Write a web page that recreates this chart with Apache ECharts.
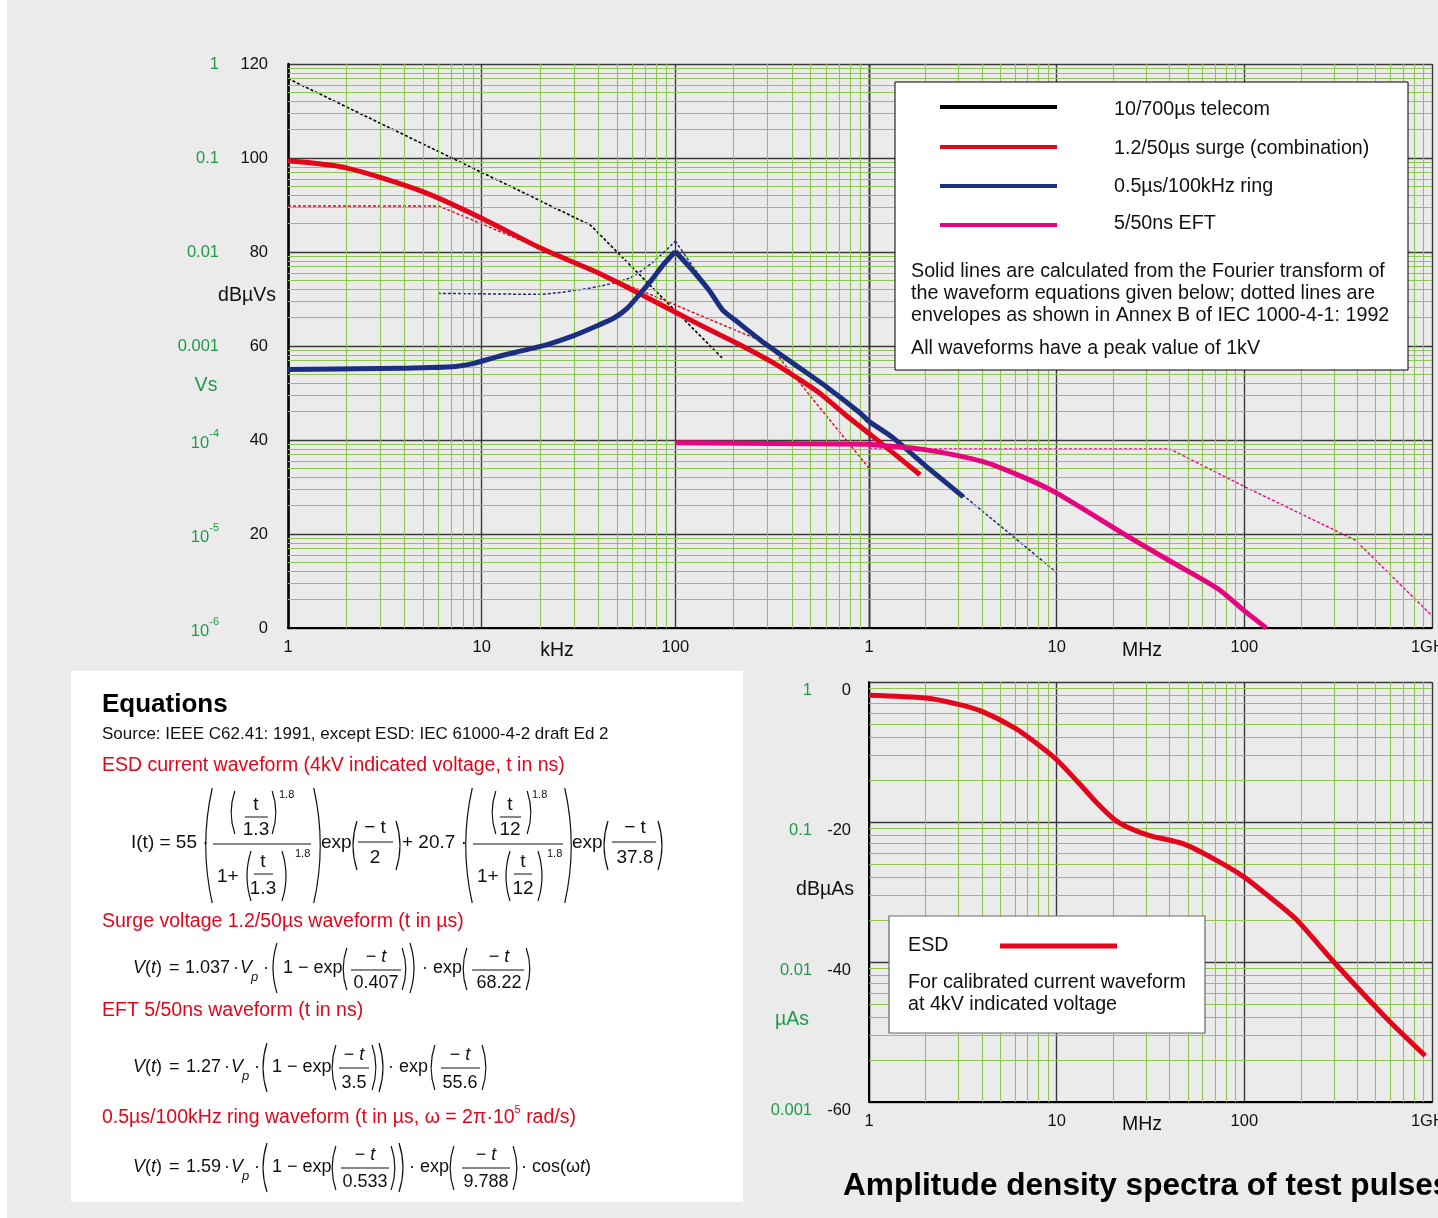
<!DOCTYPE html>
<html><head><meta charset="utf-8">
<script src="https://cdn.jsdelivr.net/npm/echarts@6/dist/echarts.min.js"></script>
<style>html,body{margin:0;padding:0;background:#ebebeb;}#c{width:1438px;height:1218px;}</style>
</head><body><div id="c"></div>
<script>
// ---------------- DATA (frequency in Hz, level in dB) ----------------
const kHzTickLabels = ['1', '10', '100', ''];
const MHzTickLabels = ['1', '10', '100', '1GHz'];
const levelTicksTop = ['0', '20', '40', '60', '80', '100', '120'];
const vsTicksTop = ['10^-6', '10^-5', '10^-4', '0.001', '0.01', '0.1', '1'];
const levelTicksBottom = ['-60', '-40', '-20', '0'];
const asTicksBottom = ['0.001', '0.01', '0.1', '1'];

// 10/700us telecom envelope (dotted)
const telecomEnvelope = [[1e3, 116.9], [36.5e3, 85.7], [175e3, 57.4]];
// 1.2/50us surge: calculated (solid) and envelope (dotted)
const surgeSpectrum = [[1e3, 99.4], [2e3, 97.9], [5e3, 92.8], [10e3, 87.2], [20e3, 80.9], [37.8e3, 76.0],
  [56.4e3, 72.5], [99e3, 67.3], [151e3, 63.4], [224e3, 59.9], [334e3, 56.0], [441e3, 52.8], [559e3, 49.9],
  [738e3, 45.7], [1e6, 41.4], [1.35e6, 37.2], [1.87e6, 32.6]];
const surgeEnvelope = [[1e3, 89.8], [6e3, 89.8], [300e3, 60.5], [1e6, 34.0]];
// 0.5us/100kHz ring: calculated (solid) and envelope (dotted)
const ringSpectrum = [[1e3, 55.0], [2.98e3, 55.2], [5.46e3, 55.4], [7.5e3, 55.7], [9.1e3, 56.3], [12e3, 57.7],
  [15.8e3, 58.9], [21.8e3, 60.3], [29.9e3, 62.2], [39.5e3, 64.3], [48e3, 65.9], [56.4e3, 68.0], [66e3, 71.2],
  [77e3, 74.5], [86.3e3, 77.2], [100e3, 80.1], [124.5e3, 75.8], [151e3, 71.6], [175e3, 67.7], [208e3, 65.2],
  [274e3, 61.3], [406e3, 56.3], [604e3, 51.3], [903e3, 45.7], [1e6, 43.9], [1.35e6, 40.4], [2.03e6, 34.3],
  [3.18e6, 27.9]];
const ringEnvelope = [[5.95e3, 71.2], [20e3, 71.0], [39.5e3, 72.6], [58.4e3, 74.5], [77e3, 77.9], [100e3, 82.3],
  [134.5e3, 74.7], [151e3, 71.9], [175e3, 68.2], [234e3, 63.6], [406e3, 56.6], [1e6, 44.3], [3.18e6, 28.2],
  [10e6, 11.8]];
// 5/50ns EFT: calculated (solid) and envelope (dotted)
const eftSpectrum = [[100e3, 39.4], [1e6, 39.1], [1.14e6, 38.9], [2.02e6, 37.9], [4.05e6, 35.4], [6.54e6, 32.2],
  [10e6, 28.7], [24.2e6, 19.4], [40.8e6, 14.1], [72e6, 8.4], [99e6, 3.8], [131e6, 0.0]];
const eftEnvelope = [[1e6, 38.1], [40e6, 38.1], [100e6, 30.1], [390e6, 18.7], [1e9, 2.6]];
// ESD current spectrum (dBuAs)
const esdSpectrum = [[1e6, -1.9], [2e6, -2.3], [3e6, -3.2], [4e6, -4.2], [6e6, -6.6], [8.2e6, -9.2], [10e6, -11.1],
  [13.2e6, -14.5], [16.4e6, -17.3], [20.2e6, -19.6], [23.7e6, -20.7], [31e6, -21.9], [47e6, -23.1], [68e6, -25.2],
  [99e6, -27.8], [129e6, -30.2], [187e6, -33.8], [300e6, -40.0], [570e6, -48.0], [920e6, -53.4]];

// ---------------- STYLE ----------------
const FONT = '"Liberation Sans", Arial, Helvetica, sans-serif';
const RED = '#e3051b', NAVY = '#1b2e80', MAGENTA = '#e4057f', BLACK = '#000';
const GREEN_TXT = '#1f9a4a', GRID_MINOR = '#8fc552', GRID_MAJOR = '#3a3a3a', INK = '#111';
const SPLIT = 1e6;

const chart = echarts.init(document.getElementById('c'), null, {renderer: 'canvas', width: 1438, height: 1218});

function sup(s) { return s.replace(/\^(-?\d+)/, '{s|$1}'); }

function logX(gi, min, max, labels, e0) {
  return {
    type: 'log', logBase: 10, gridIndex: gi, min, max,
    axisLine: {show: true, onZero: false, lineStyle: {color: '#000', width: 2}},
    axisTick: {show: false},
    axisLabel: {show: true, margin: 11, color: INK, fontSize: 16.5, fontFamily: FONT,
      showMinLabel: true, showMaxLabel: true, hideOverlap: false,
      formatter: v => { const i = Math.round(Math.log10(v)) - e0; return labels[i] !== undefined ? labels[i] : ''; }},
    splitLine: {show: true, lineStyle: {color: GRID_MAJOR, width: 1.4}},
    minorTick: {show: false}, minorSplitLine: {show: false}
  };
}
function valY(gi, min, max, opt) {
  return Object.assign({
    type: 'value', gridIndex: gi, min, max, interval: 20, position: 'left',
    axisTick: {show: false}, minorTick: {show: false}, minorSplitLine: {show: false}
  }, opt);
}
const greenRich = {
  b: {fontSize: 16.5, fontFamily: FONT, color: GREEN_TXT, verticalAlign: 'bottom'},
  s: {fontSize: 11, fontFamily: FONT, color: GREEN_TXT, verticalAlign: 'bottom', padding: [0, 0, 13, 0]}
};

const minorK = [2, 3, 4, 5, 6, 7, 8, 9];
function minorLines(e0, e1, yLo, yHi) {
  const out = [];
  for (let d = e0; d < e1; d++) for (const k of minorK) out.push({xAxis: k * Math.pow(10, d)});
  for (let m = yLo; m < yHi; m += 20) for (const k of minorK) out.push({yAxis: m + 20 * Math.log10(k)});
  return out;
}
function gridHelper(xi, yi, x0, y0, lines) {
  return {type: 'line', xAxisIndex: xi, yAxisIndex: yi, data: [[x0, y0]], symbol: 'none', silent: true, z: 1,
    lineStyle: {width: 0}, animation: false,
    markLine: {silent: true, symbol: ['none', 'none'], label: {show: false}, animation: false,
      lineStyle: {type: 'solid', color: GRID_MINOR, width: 1.1}, emphasis: {disabled: true}, data: lines}};
}
function lineSeries(data, xi, yi, color, width, dash, smooth) {
  return {type: 'line', xAxisIndex: xi, yAxisIndex: yi, data, symbol: 'none', showSymbol: false,
    smooth: smooth || false, clip: true, silent: true, z: dash ? 4 : 5, animation: false,
    lineStyle: {color, width, type: dash ? [3, 2] : 'solid', cap: 'butt', join: 'round'},
    emphasis: {disabled: true}};
}
function topCurve(data, color, width, dash, smooth) {
  const left = data.filter(p => p[0] <= SPLIT), right = data.filter(p => p[0] >= SPLIT);
  const out = [];
  if (left.length > 1) out.push(lineSeries(left, 0, 0, color, width, dash, smooth));
  if (right.length > 1) out.push(lineSeries(right, 1, 2, color, width, dash, smooth));
  return out;
}
// keep a sharp resonance peak: draw the rising and falling flanks as separate smoothed lines
function peakCurve(data, color, width, dash, smooth) {
  let ip = 0;
  data.forEach((p, i) => { if (p[1] > data[ip][1]) ip = i; });
  return topCurve(data.slice(0, ip + 1), color, width, dash, smooth)
    .concat(topCurve(data.slice(ip), color, width, dash, smooth));
}

// ---------------- GRAPHIC HELPERS ----------------
function T(x, y, text, o) {
  o = o || {};
  const size = o.size || 19;
  const st = {
    text, fill: o.color || INK,
    font: (o.italic ? 'italic ' : '') + (o.weight || 'normal') + ' ' + size + 'px ' + FONT,
    textAlign: o.align || 'left', align: o.align || 'left',
    textVerticalAlign: 'middle', verticalAlign: 'middle'
  };
  if (o.rich) st.rich = o.rich;
  return {type: 'text', x, y, z: o.z || 60, silent: true, style: st};
}
function L(x1, y1, x2, y2, color, w, z) {
  return {type: 'line', z: z || 60, silent: true, shape: {x1, y1, x2, y2}, style: {stroke: color || INK, lineWidth: w || 1}};
}
function paren(x, top, bottom, left) {
  const h = bottom - top;
  const b = Math.min(13, h * 0.1 + 3);
  const ex = left ? x + b / 4 : x - b / 4;
  const cx = left ? ex - b : ex + b;
  return {type: 'bezierCurve', z: 60, silent: true,
    shape: {x1: ex, y1: top, x2: ex, y2: bottom, cpx1: cx, cpy1: (top + bottom) / 2},
    style: {stroke: INK, lineWidth: 1.2, fill: null}};
}
const itRich = size => ({i: {fontStyle: 'italic', fontSize: size, fontFamily: FONT, color: INK}});

function formula(items, size) {
  const out = [];
  for (const it of items) {
    const k = it[0];
    if (k === 't') out.push(T(it[1], it[2], it[3], Object.assign({size}, it[4] || {})));
    else if (k === 'c') out.push(T(it[1], it[2], it[3], Object.assign({size, align: 'center'}, it[4] || {})));
    else if (k === 'b') out.push(L(it[1], it[3], it[2], it[3], INK, 1));
    else if (k === 'L') out.push(paren(it[1], it[2], it[3], true));
    else if (k === 'R') out.push(paren(it[1], it[2], it[3], false));
  }
  return out;
}

const f1 = formula([
  ['t', 131, 843, 'I(t) = 55 ·'],
  ['L', 209, 788, 903],
  ['L', 233, 791, 834], ['c', 256, 805, 't'], ['b', 245, 268, 817], ['c', 256, 830, '1.3'], ['R', 274, 791, 834],
  ['t', 279, 795, '1.8', {size: 11}],
  ['b', 213, 311, 844],
  ['t', 217, 877, '1+'], ['L', 249, 851, 901], ['c', 263, 862, 't'], ['b', 254, 273, 874], ['c', 263, 889, '1.3'],
  ['R', 284, 851, 901], ['t', 295, 854, '1.8', {size: 11}],
  ['R', 317, 788, 903],
  ['t', 321, 843, 'exp'], ['L', 355, 821, 870], ['c', 375, 828, '− t'], ['b', 358, 393, 842], ['c', 375, 858, '2'],
  ['R', 398, 821, 870],
  ['t', 402, 843, '+ 20.7 ·'],
  ['L', 469, 788, 903],
  ['L', 494, 791, 834], ['c', 510, 805, 't'], ['b', 500, 521, 817], ['c', 510, 830, '12'], ['R', 529, 791, 834],
  ['t', 532, 795, '1.8', {size: 11}],
  ['b', 473, 563, 844],
  ['t', 477, 877, '1+'], ['L', 508, 851, 901], ['c', 523, 862, 't'], ['b', 514, 532, 874], ['c', 523, 889, '12'],
  ['R', 540, 851, 901], ['t', 547, 854, '1.8', {size: 11}],
  ['R', 568, 788, 903],
  ['t', 572, 843, 'exp'], ['L', 606, 821, 870], ['c', 635, 828, '− t'], ['b', 612, 656, 842], ['c', 635, 858, '37.8'],
  ['R', 660, 821, 870]
], 19);

function vHead(y, k, xEq, xK, xDot, xV, xP, xDot2) {
  return [
    ['t', 133, y, '{i|V}({i|t})', {rich: itRich(18)}],
    ['t', xEq, y, '='], ['t', xK, y, k], ['t', xDot, y, '·'],
    ['t', xV, y, 'V', {italic: true}], ['t', xP, y + 9, 'p', {italic: true, size: 13}], ['t', xDot2, y, '·']
  ];
}
const f2 = formula(vHead(968, '1.037', 169, 185, 233, 240, 251, 263).concat([
  ['L', 275, 943, 993], ['t', 283, 968, '1 − exp'],
  ['L', 345, 948, 990], ['c', 376, 957, '− {i|t}', {rich: itRich(18)}], ['b', 351, 401, 970], ['c', 376, 983, '0.407'],
  ['R', 404, 948, 990], ['R', 412, 943, 993],
  ['t', 422, 968, '· exp'],
  ['L', 465, 948, 990], ['c', 499, 957, '− {i|t}', {rich: itRich(18)}], ['b', 472, 524, 970], ['c', 499, 983, '68.22'],
  ['R', 528, 948, 990]
]), 18);
const f3 = formula(vHead(1067, '1.27', 169, 186, 224, 231, 242, 254).concat([
  ['L', 265, 1043, 1092], ['t', 272, 1067, '1 − exp'],
  ['L', 334, 1045, 1090], ['c', 354, 1055, '− {i|t}', {rich: itRich(18)}], ['b', 339, 369, 1068], ['c', 354, 1083, '3.5'],
  ['R', 374, 1045, 1090], ['R', 381, 1043, 1092],
  ['t', 388, 1067, '· exp'],
  ['L', 433, 1045, 1090], ['c', 460, 1055, '− {i|t}', {rich: itRich(18)}], ['b', 441, 480, 1068], ['c', 460, 1083, '55.6'],
  ['R', 484, 1045, 1090]
]), 18);
const f4 = formula(vHead(1167, '1.59', 169, 186, 224, 231, 242, 254).concat([
  ['L', 265, 1143, 1192], ['t', 272, 1167, '1 − exp'],
  ['L', 334, 1146, 1190], ['c', 365, 1155, '− {i|t}', {rich: itRich(18)}], ['b', 341, 389, 1168], ['c', 365, 1182, '0.533'],
  ['R', 393, 1146, 1190], ['R', 401, 1143, 1192],
  ['t', 409, 1167, '· exp'],
  ['L', 452, 1146, 1190], ['c', 486, 1155, '− {i|t}', {rich: itRich(18)}], ['b', 462, 510, 1168], ['c', 486, 1182, '9.788'],
  ['R', 515, 1146, 1190],
  ['t', 521, 1167, '· cos(ω{i|t})', {rich: itRich(18)}]
]), 18);

const headRich = {s: {fontSize: 11, fontFamily: FONT, color: RED, verticalAlign: 'bottom', padding: [0, 0, 12, 0]},
  n: {fontSize: 19.5, fontFamily: FONT, color: RED, verticalAlign: 'bottom'}};

const graphics = [
  {type: 'rect', z: 0, silent: true, shape: {x: 0, y: 0, width: 7, height: 1218}, style: {fill: '#ffffff'}},
  // axis names
  T(247, 296, 'dBµVs', {size: 19.5, align: 'center'}),
  T(206, 386, 'Vs', {size: 19.5, color: GREEN_TXT, align: 'center'}),
  T(557, 651, 'kHz', {size: 19.5, align: 'center'}),
  T(1142, 651, 'MHz', {size: 19.5, align: 'center'}),
  T(1142, 1125, 'MHz', {size: 19.5, align: 'center'}),
  T(825, 890, 'dBµAs', {size: 19.5, align: 'center'}),
  T(792, 1020, 'µAs', {size: 19.5, color: GREEN_TXT, align: 'center'}),
  // top legend box
  {type: 'rect', z: 50, silent: true, shape: {x: 895, y: 82, width: 513, height: 288}, style: {fill: '#fff', stroke: '#000', lineWidth: 1}},
  L(940, 107, 1057, 107, BLACK, 4), L(940, 147, 1057, 147, RED, 4), L(940, 186, 1057, 186, NAVY, 4), L(940, 225, 1057, 225, MAGENTA, 4),
  T(1114, 110, '10/700µs telecom', {size: 19.7}),
  T(1114, 149, '1.2/50µs surge (combination)', {size: 19.7}),
  T(1114, 187, '0.5µs/100kHz ring', {size: 19.7}),
  T(1114, 224, '5/50ns EFT', {size: 19.7}),
  T(911, 272, 'Solid lines are calculated from the Fourier transform of', {size: 19.7}),
  T(911, 294, 'the waveform equations given below; dotted lines are', {size: 19.7}),
  T(911, 316, 'envelopes as shown in Annex B of IEC 1000-4-1: 1992', {size: 19.7}),
  T(911, 349, 'All waveforms have a peak value of 1kV', {size: 19.7}),
  // bottom legend box
  {type: 'rect', z: 50, silent: true, shape: {x: 889, y: 916, width: 316, height: 117}, style: {fill: '#fff', stroke: '#666', lineWidth: 1.2}},
  T(908, 946, 'ESD', {size: 19.7}),
  L(1000, 946, 1117, 946, RED, 5),
  T(908, 983, 'For calibrated current waveform', {size: 19.7}),
  T(908, 1005, 'at 4kV indicated voltage', {size: 19.7}),
  // title
  T(843, 1186, 'Amplitude density spectra of test pulses', {size: 31.6, weight: 'bold', color: '#000'}),
  // equations panel
  {type: 'rect', z: 40, silent: true, shape: {x: 71, y: 671, width: 672, height: 531}, style: {fill: '#fff'}},
  T(102, 705, 'Equations', {size: 26, weight: 'bold', color: '#000'}),
  T(102, 734, 'Source: IEEE C62.41: 1991, except ESD: IEC 61000-4-2 draft Ed 2', {size: 17}),
  T(102, 766, 'ESD current waveform (4kV indicated voltage, t in ns)', {size: 19.5, color: RED}),
  T(102, 922, 'Surge voltage 1.2/50µs waveform (t in µs)', {size: 19.5, color: RED}),
  T(102, 1011, 'EFT 5/50ns waveform (t in ns)', {size: 19.5, color: RED}),
  T(102, 1116, '{n|0.5µs/100kHz ring waveform (t in µs, ω = 2π·10}{s|5}{n| rad/s)}', {size: 19.5, color: RED, rich: headRich})
].concat(f1, f2, f3, f4);

const gridBase = {containLabel: false, outerBoundsMode: 'none'};
const option = {
  animation: false,
  backgroundColor: '#ebebeb',
  grid: [
    Object.assign({left: 288, top: 64, width: 581, height: 564}, gridBase),
    Object.assign({left: 869, top: 64, width: 563, height: 564}, gridBase),
    Object.assign({left: 869, top: 682, width: 563, height: 420}, gridBase)
  ],
  xAxis: [
    logX(0, 1e3, 1e6, kHzTickLabels, 3),
    logX(1, 1e6, 1e9, MHzTickLabels, 6),
    logX(2, 1e6, 1e9, MHzTickLabels, 6)
  ],
  yAxis: [
    valY(0, 0, 120, {axisLine: {show: true, onZero: false, lineStyle: {color: '#000', width: 2.5}},
      axisLabel: {margin: 20, color: INK, fontSize: 16.5, fontFamily: FONT, formatter: v => levelTicksTop[Math.round(v / 20)]},
      splitLine: {show: true, lineStyle: {color: GRID_MAJOR, width: 1.4}}}),
    valY(0, 0, 120, {offset: 49, axisLine: {show: false}, splitLine: {show: false},
      axisLabel: {margin: 20, color: GREEN_TXT, fontSize: 16.5, fontFamily: FONT, rich: greenRich,
        formatter: v => { const s = vsTicksTop[Math.round(v / 20)]; return s.indexOf('^') >= 0 ? '{b|10}' + sup(s.replace(/^10/, '')) : s; }}}),
    valY(1, 0, 120, {axisLine: {show: false}, axisLabel: {show: false},
      splitLine: {show: true, lineStyle: {color: GRID_MAJOR, width: 1.4}}}),
    valY(2, -60, 0, {axisLine: {show: true, onZero: false, lineStyle: {color: '#000', width: 2}},
      axisLabel: {margin: 18, color: INK, fontSize: 16.5, fontFamily: FONT, verticalAlign: 'top',
        formatter: v => levelTicksBottom[Math.round((v + 60) / 20)]},
      splitLine: {show: true, lineStyle: {color: GRID_MAJOR, width: 1.4}}}),
    valY(2, -60, 0, {offset: 39, axisLine: {show: false}, splitLine: {show: false},
      axisLabel: {margin: 18, color: GREEN_TXT, fontSize: 16.5, fontFamily: FONT, verticalAlign: 'top',
        formatter: v => asTicksBottom[Math.round((v + 60) / 20)]}})
  ],
  series: [
    gridHelper(0, 0, 1e3, 0, minorLines(3, 6, 0, 120)),
    gridHelper(1, 2, 1e6, 0, minorLines(6, 9, 0, 120)),
    gridHelper(2, 3, 1e6, -60, minorLines(6, 9, -60, 0))
  ].concat(
    topCurve(telecomEnvelope, BLACK, 1.6, true),
    topCurve(surgeEnvelope, RED, 1.4, true),
    peakCurve(ringEnvelope, NAVY, 1.5, true, 0.2),
    topCurve(eftEnvelope, MAGENTA, 1.4, true),
    topCurve(surgeSpectrum, RED, 5, false, 0.25),
    peakCurve(ringSpectrum, NAVY, 5, false, 0.2),
    topCurve(eftSpectrum, MAGENTA, 5, false, 0.25),
    [lineSeries(esdSpectrum, 2, 3, RED, 5, false, 0.25)]
  ),
  graphic: {elements: graphics}
};
chart.setOption(option);
</script></body></html>
